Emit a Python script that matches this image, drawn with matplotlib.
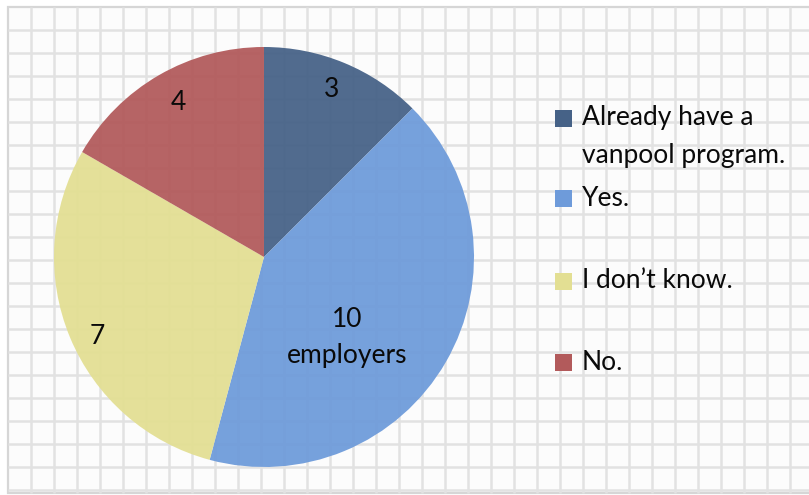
import numpy as np
import matplotlib
matplotlib.use("Agg")
import matplotlib.pyplot as plt
from matplotlib.patches import Rectangle

# Survey responses: would the employer be interested in a vanpool program?
categories = ["Already have a\nvanpool program.", "Yes.", "I don\u2019t know.", "No."]
counts = [3, 10, 7, 4]
slice_labels = ["3", "10\nemployers", "7", "4"]
colors = ["#466287", "#6E9BDA", "#E3DF93", "#B25A5B"]

W, H = 809, 495
fig = plt.figure(figsize=(W / 100, H / 100), dpi=100)
fig.patch.set_facecolor("white")

# Graph-paper background in pixel coordinates
bg = fig.add_axes([0, 0, 1, 1])
bg.set_xlim(0, W)
bg.set_ylim(H, 0)
bg.axis("off")
bg.add_patch(Rectangle((8, 7), W + 20, 486, facecolor="#FCFCFC",
                       edgecolor="#D6D6D6", lw=1.6, zorder=0))
step = 23.0
for x in np.arange(8 + step, W, step):
    bg.plot([x, x], [7, 493], color="#E2E2E2", lw=1.8, zorder=1,
            solid_capstyle="butt")
for y in np.arange(7 + step, 493, step):
    bg.plot([8, W], [y, y], color="#E2E2E2", lw=1.8, zorder=1,
            solid_capstyle="butt")

# Pie chart
cx, cy, r = 264, 257, 210
ax = fig.add_axes([(cx - r) / W, (H - cy - r) / H, 2 * r / W, 2 * r / H])
wedges, _ = ax.pie(counts, colors=colors, startangle=90, counterclock=False,
                   radius=1.0, wedgeprops=dict(linewidth=0, alpha=0.94))
ax.set_xlim(-1, 1)
ax.set_ylim(-1, 1)
ax.set_aspect("equal")
ax.axis("off")
ax.patch.set_alpha(0)

font = "Lato"
fs = 19
txt_color = "#0A0A0A"
line_step = 36 / r
label_r = [0.86, 0.55, 0.88, 0.84]
label_shift = [0.5, -14.0, 3.0, -1.0]
for w, lab, lr, sh in zip(wedges, slice_labels, label_r, label_shift):
    ang = np.deg2rad((w.theta1 + w.theta2) / 2 + sh)
    px, py = lr * np.cos(ang), lr * np.sin(ang)
    lines = lab.split("\n")
    y0 = py + (len(lines) - 1) * line_step / 2
    for i, ln in enumerate(lines):
        ax.text(px, y0 - i * line_step, ln, ha="center", va="center",
                fontsize=fs, family=font, color=txt_color, zorder=4)

# Legend
leg_rows = [118, 198, 281, 362]
for cat, col, yc in zip(categories, colors, leg_rows):
    bg.add_patch(Rectangle((555, yc - 8.5), 17, 17, facecolor=col,
                           edgecolor="none", zorder=3))
    for i, ln in enumerate(cat.split("\n")):
        bg.text(582, yc + i * 37, ln, ha="left", va="center",
                fontsize=fs, family=font, color=txt_color, zorder=3)

fig.savefig("out.png", dpi=100)
